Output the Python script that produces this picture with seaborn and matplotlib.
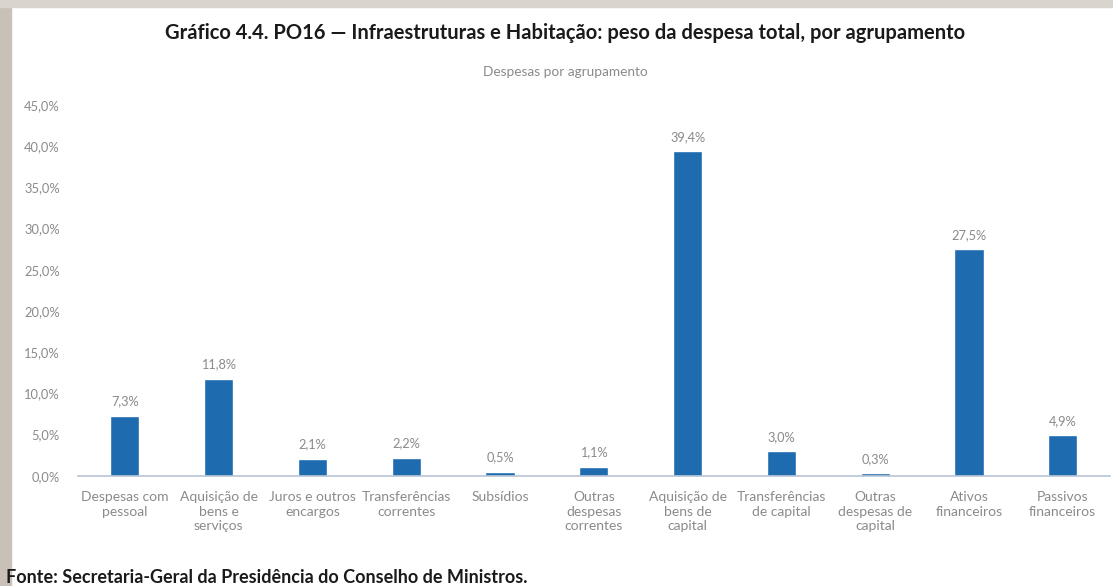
import numpy as np
import pandas as pd
import seaborn as sns
import matplotlib.pyplot as plt
from matplotlib.patches import Rectangle

categories = [
    "Despesas com\npessoal",
    "Aquisição de\nbens e\nserviços",
    "Juros e outros\nencargos",
    "Transferências\ncorrentes",
    "Subsídios",
    "Outras\ndespesas\ncorrentes",
    "Aquisição de\nbens de\ncapital",
    "Transferências\nde capital",
    "Outras\ndespesas de\ncapital",
    "Ativos\nfinanceiros",
    "Passivos\nfinanceiros",
]
values = [7.3, 11.8, 2.1, 2.2, 0.5, 1.1, 39.4, 3.0, 0.3, 27.5, 4.9]
yticks = [0, 5, 10, 15, 20, 25, 30, 35, 40, 45]

title = "Gráfico 4.4. PO16 — Infraestruturas e Habitação: peso da despesa total, por agrupamento"
subtitle = "Despesas por agrupamento"
source = "Fonte: Secretaria-Geral da Presidência do Conselho de Ministros."

sns.set_theme(style="white")
plt.rcParams['font.family'] = ['Lato', 'DejaVu Sans']

df = pd.DataFrame({"cat": categories, "val": values})

fig = plt.figure(figsize=(11.13, 5.86), dpi=100)
ax = fig.add_axes([0.070, 0.188, 0.927, 0.633])

sns.barplot(data=df, x="cat", y="val", color="#1f6bb0", width=0.31,
            saturation=1, ax=ax)

ax.set_ylim(0, 45)
ax.set_yticks(yticks)
ax.set_yticklabels([f"{t:.1f}%".replace(".", ",") for t in yticks],
                   color="#8a8a8a", fontsize=9.3)
ax.set_xlabel("")
ax.set_ylabel("")
ax.tick_params(axis="x", colors="#8a8a8a", labelsize=10, length=0, pad=11)
ax.tick_params(axis="y", length=0, pad=13)
for lbl in ax.get_xticklabels():
    lbl.set_linespacing(1.25)
for s in ["top", "right", "left"]:
    ax.spines[s].set_visible(False)
ax.spines["bottom"].set_color("#b8c4d4")
ax.spines["bottom"].set_linewidth(1.2)

for c in ax.containers:
    ax.bar_label(c, labels=[f"{v:.1f}%".replace(".", ",") for v in values],
                 padding=6, color="#8a8a8a", fontsize=9.2)

fig.text(0.508, 0.943, title, ha="center", va="center", fontsize=14.5,
         fontweight="bold", color="#1a1a1a")
fig.text(0.508, 0.877, subtitle, ha="center", va="center", fontsize=9.8,
         color="#8a8a8a")
fig.text(0.005, 0.014, source, ha="left", va="center", fontsize=13,
         fontweight="bold", color="#1a1a1a")

# scanned page edges
fig.patches.append(Rectangle((0, 0), 0.010, 1, transform=fig.transFigure,
                             color="#c9c1b8", zorder=0))
fig.patches.append(Rectangle((0, 0.988), 1, 0.012, transform=fig.transFigure,
                             color="#d9d4ce", zorder=0))

fig.savefig("out.png", dpi=100)
